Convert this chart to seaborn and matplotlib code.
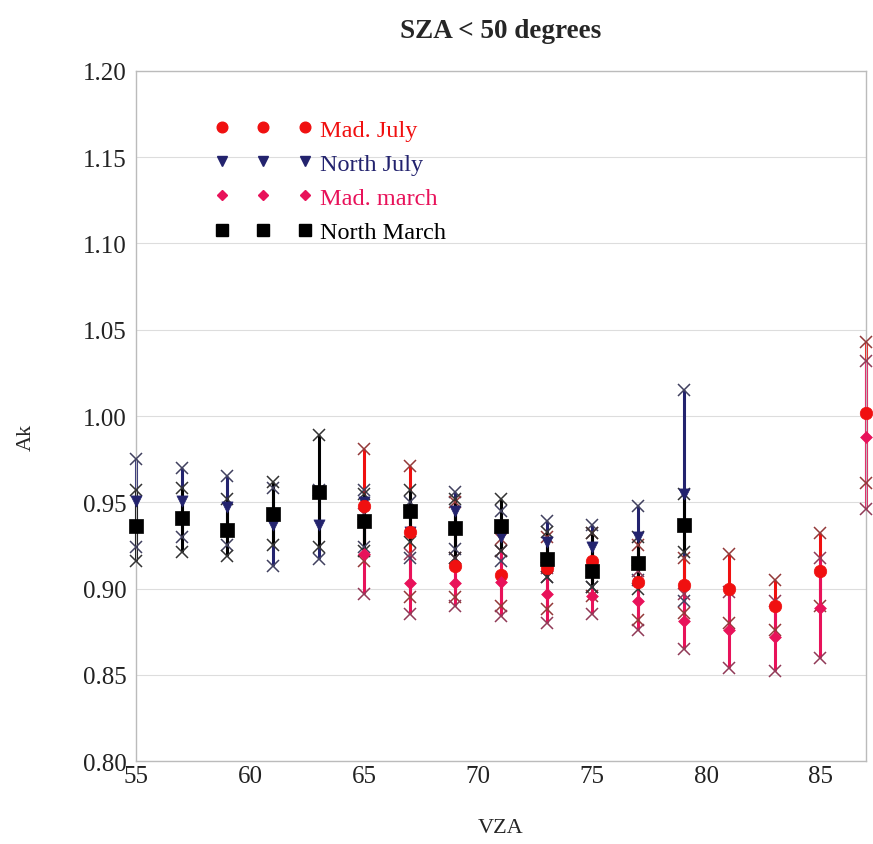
import numpy as np
import pandas as pd
import seaborn as sns
import matplotlib
matplotlib.use("Agg")
import matplotlib.pyplot as plt
from matplotlib.lines import Line2D
from matplotlib.colors import to_rgb

# ---------------- data ----------------
vza_north = [55, 57, 59, 61, 63, 65, 67, 69, 71, 73, 75, 77, 79]
vza_mad = [65, 67, 69, 71, 73, 75, 77, 79, 81, 83, 85, 87]

north_july_mean = [0.951, 0.951, 0.947, 0.937, 0.937, 0.950, 0.933, 0.945, 0.930, 0.927, 0.924, 0.930, 0.955]
north_july_lo   = [0.924, 0.930, 0.925, 0.913, 0.917, 0.924, 0.918, 0.923, 0.916, 0.907, 0.901, 0.905, 0.893]
north_july_hi   = [0.975, 0.970, 0.965, 0.958, 0.957, 0.957, 0.950, 0.956, 0.945, 0.939, 0.937, 0.948, 1.015]

north_march_mean = [0.936, 0.941, 0.934, 0.943, 0.956, 0.939, 0.945, 0.935, 0.936, 0.917, 0.910, 0.915, 0.937]
north_march_lo   = [0.916, 0.921, 0.919, 0.925, 0.924, 0.922, 0.927, 0.918, 0.922, 0.907, 0.901, 0.900, 0.921]
north_march_hi   = [0.957, 0.958, 0.952, 0.962, 0.989, 0.955, 0.957, 0.952, 0.952, 0.933, 0.932, 0.930, 0.955]

mad_july_mean = [0.948, 0.933, 0.913, 0.908, 0.912, 0.916, 0.904, 0.902, 0.900, 0.890, 0.910, 1.002]
mad_july_lo   = [0.916, 0.895, 0.895, 0.890, 0.888, 0.896, 0.882, 0.886, 0.880, 0.876, 0.890, 0.961]
mad_july_hi   = [0.981, 0.971, 0.950, 0.929, 0.930, 0.932, 0.925, 0.918, 0.920, 0.905, 0.932, 1.043]

mad_march_mean = [0.920, 0.903, 0.903, 0.904, 0.897, 0.896, 0.893, 0.881, 0.876, 0.872, 0.889, 0.988]
mad_march_lo   = [0.897, 0.885, 0.890, 0.884, 0.880, 0.885, 0.876, 0.865, 0.854, 0.852, 0.860, 0.946]
mad_march_hi   = [0.943, 0.920, 0.918, 0.922, 0.912, 0.910, 0.910, 0.897, 0.898, 0.893, 0.918, 1.032]

series_names = ["North July", "Mad. July", "Mad. march", "North March"]
legend_order = ["Mad. July", "North July", "Mad. march", "North March"]
x_ticks = [55, 60, 65, 70, 75, 80, 85]
y_ticks = [0.80, 0.85, 0.90, 0.95, 1.00, 1.05, 1.10, 1.15, 1.20]

frames = []
for name, x, m, lo, hi in [
    ("North July", vza_north, north_july_mean, north_july_lo, north_july_hi),
    ("Mad. July", vza_mad, mad_july_mean, mad_july_lo, mad_july_hi),
    ("Mad. march", vza_mad, mad_march_mean, mad_march_lo, mad_march_hi),
    ("North March", vza_north, north_march_mean, north_march_lo, north_march_hi),
]:
    frames.append(pd.DataFrame({"series": name, "VZA": x, "Ak": m, "lo": lo, "hi": hi}))
df = pd.concat(frames, ignore_index=True)

# ---------------- style ----------------
colors = {"Mad. July": "#f01010", "North July": "#23236e",
          "Mad. march": "#e8125a", "North March": "#000000"}
markers = {"Mad. July": "o", "North July": "v", "Mad. march": "D", "North March": "s"}
msizes = {"Mad. July": 9, "North July": 8, "Mad. march": 6, "North March": 9.5}

def blend(c, other="#555555", t=0.6):
    a = np.array(to_rgb(c)); b = np.array(to_rgb(other))
    return tuple(a * (1 - t) + b * t)

sns.set_theme(style="white")
plt.rcParams["font.family"] = ["Liberation Serif", "DejaVu Serif"]

fig = plt.figure(figsize=(8.73, 8.45), dpi=100)
ax = fig.add_axes([0.156, 0.098, 0.836, 0.817])

for name in series_names:
    d = df[df["series"] == name]
    c = colors[name]
    ax.vlines(d["VZA"], d["lo"], d["hi"], colors=c, linewidth=2.2, zorder=2, clip_on=False)
    for col in ("lo", "hi"):
        ax.plot(d["VZA"], d[col], linestyle="none", marker="x", markersize=9,
                markeredgewidth=1.1, color=blend(c), zorder=3, clip_on=False)
for name in series_names:
    d = df[df["series"] == name]
    sns.scatterplot(data=d, x="VZA", y="Ak", marker=markers[name], color=colors[name],
                    s=msizes[name] ** 2, edgecolor=colors[name], linewidth=0.5,
                    ax=ax, zorder=4, legend=False, clip_on=False)

ax.set_xlim(55, 87)
ax.set_ylim(0.80, 1.20)
ax.set_xticks(x_ticks)
ax.set_yticks(y_ticks)
ax.set_yticklabels([f"{v:.2f}" for v in y_ticks])
ax.tick_params(axis="both", labelsize=18, colors="#222222", length=0)
ax.tick_params(axis="y", pad=7)
ax.tick_params(axis="x", pad=3)
ax.yaxis.grid(True, color="#dddddd", linewidth=0.8)
ax.xaxis.grid(False)
for s in ax.spines.values():
    s.set_color("#bbbbbb")
    s.set_linewidth(1.0)

ax.set_xlabel("VZA", fontsize=16)
ax.xaxis.set_label_coords(0.5, -0.082)
ax.set_ylabel("Ak", fontsize=16)
ax.yaxis.set_label_coords(-0.138, 0.47)
ax.set_title("SZA < 50 degrees", fontsize=19.5, fontweight="bold", pad=24)

handles = [Line2D([], [], linestyle="none", marker=markers[n], color=colors[n],
                  markersize=msizes[n] * 0.85) for n in legend_order]
leg = ax.legend(handles, legend_order, loc="upper left", bbox_to_anchor=(0.094, 0.945),
                frameon=False, numpoints=3, handlelength=4.02, handletextpad=0.3,
                labelspacing=0.5, fontsize=17.5, borderaxespad=0)
for t, n in zip(leg.get_texts(), legend_order):
    t.set_color(colors[n])

fig.savefig("out.png", dpi=100)
